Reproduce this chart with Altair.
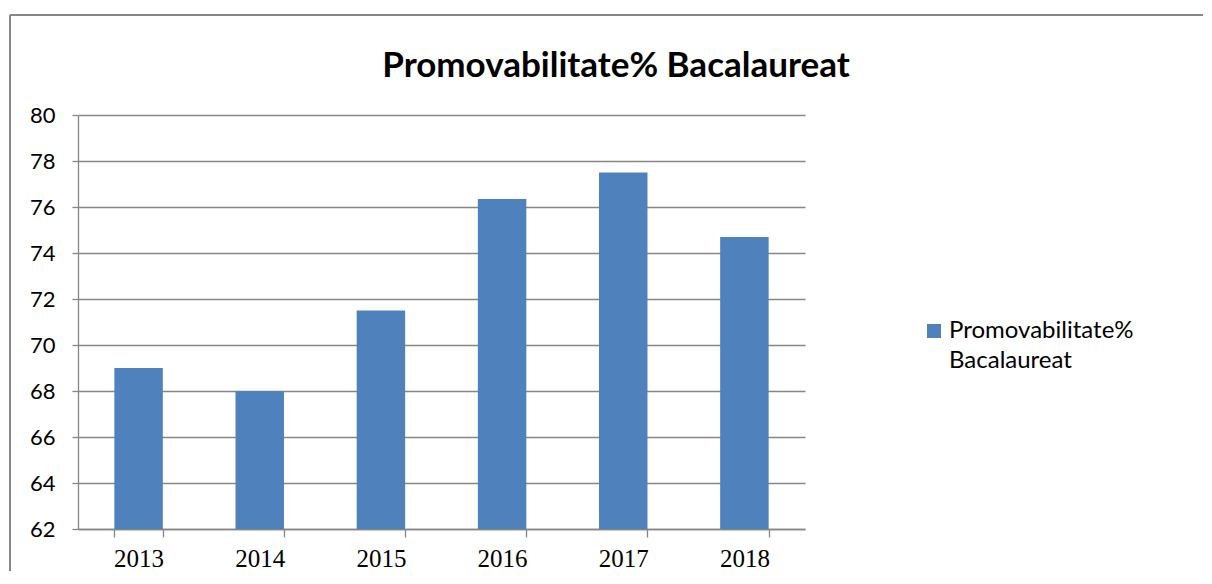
import altair as alt
import pandas as pd

years = ["2013", "2014", "2015", "2016", "2017", "2018"]
values = [69.0, 68.0, 71.5, 76.35, 77.5, 74.7]
series = "Promovabilitate% Bacalaureat"
y_ticks = list(range(62, 81, 2))

df = pd.DataFrame({"year": years, "value": values, "series": [series] * len(years)})

GRAY = "#868686"
BLUE = "#4F81BD"

bars = alt.Chart(df).mark_bar(color=BLUE, clip=True).encode(
    x=alt.X("year:N", title=None,
            scale=alt.Scale(paddingInner=0.6, paddingOuter=0.3),
            axis=alt.Axis(labelAngle=0, labelFont="Liberation Serif", labelFontSize=25,
                          labelColor="black", tickBand="extent", tickSize=8,
                          tickColor=GRAY, domainColor=GRAY, labelPadding=9,
                          grid=False, tickWidth=1.3, domainWidth=1.3)),
    y=alt.Y("value:Q", title=None,
            scale=alt.Scale(domain=[62, 80], nice=False, zero=False),
            axis=alt.Axis(values=y_ticks, labelFont="Lato", labelFontSize=22,
                          labelColor="black", tickSize=6, tickColor=GRAY,
                          domainColor=GRAY, gridColor=GRAY, gridWidth=1.3,
                          labelPadding=17, tickWidth=1.3, domainWidth=1.3)),
    fill=alt.Fill("series:N", scale=alt.Scale(range=[BLUE]),
                  legend=alt.Legend(title=None, orient="none", legendX=844, legendY=192,
                                    symbolType="M-1,0.714H1V2.714H-1Z", symbolSize=196,
                                    symbolStrokeWidth=0, labelFont="Lato",
                                    labelFontSize=24, labelColor="black",
                                    labelLimit=400, labelOffset=3, padding=0,
                                    labelBaseline="top",
                                    labelExpr="['Promovabilitate%', 'Bacalaureat']")),
)

frame_df = pd.DataFrame({"k": [0]})
left_line = alt.Chart(frame_df).mark_rule(color=GRAY, strokeWidth=2).encode(
    x=alt.value(-68), y=alt.value(-100), y2=alt.value(520))
top_line = alt.Chart(frame_df).mark_rule(color=GRAY, strokeWidth=2).encode(
    x=alt.value(-68), x2=alt.value(1200), y=alt.value(-100))
title = alt.Chart(frame_df).mark_text(
    font="Lato", fontSize=35, fontWeight="bold", color="black",
    align="center", baseline="alphabetic").encode(
    x=alt.value(538), y=alt.value(-38), text=alt.value(series))

chart = alt.layer(bars, left_line, top_line, title).properties(
    width=727, height=414,
    autosize=alt.AutoSizeParams(type="none"),
    padding={"left": 70, "top": 107, "right": 398, "bottom": 42},
).configure(style={"guide-label": {"lineHeight": 30}}).configure_view(strokeWidth=0)

chart.save("out.html", embed_options={"renderer": "svg", "actions": False})
